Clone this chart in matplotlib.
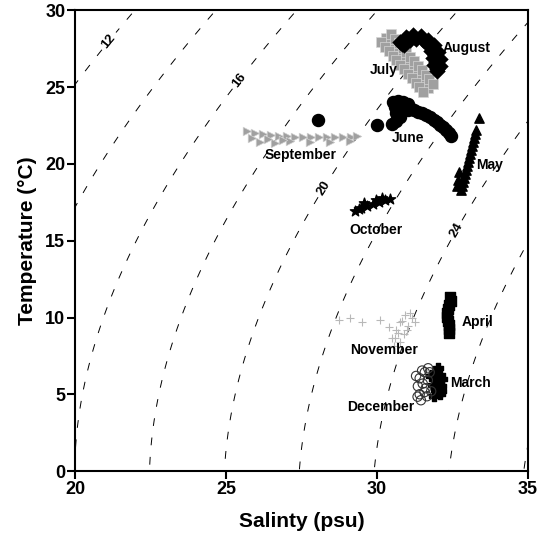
import numpy as np
import matplotlib
matplotlib.use("Agg")
import matplotlib.pyplot as plt

plt.rcParams['font.family'] = ['Liberation Sans', 'DejaVu Sans']

# ---------------- data (Salinity psu, Temperature °C) ----------------
aug_S = [30.76, 30.96, 31.19, 31.46, 31.69, 31.89, 32.02, 32.09, 32.09, 31.99,
         30.89, 31.09, 31.29, 31.52, 31.69, 31.79, 31.85, 31.89,
         30.82, 31.02, 31.24, 31.49, 31.69, 31.84, 31.93, 31.97, 31.99]
aug_T = [27.91, 28.24, 28.37, 28.30, 28.04, 27.72, 27.26, 26.81, 26.35, 26.02,
         27.72, 28.04, 28.11, 28.04, 27.72, 27.33, 26.87, 26.42,
         27.82, 28.14, 28.24, 28.17, 27.88, 27.52, 27.07, 26.61, 26.20]

jul_S = [30.30, 30.43, 30.56, 30.70, 30.79, 30.93, 31.06, 31.19, 31.32, 31.46, 31.56, 31.69,
         30.47, 30.60, 30.73, 30.87, 30.96, 31.10, 31.23, 31.36, 31.49, 31.63, 31.73, 31.86,
         30.13, 30.26, 30.39, 30.53, 30.62, 30.76, 30.89, 31.02, 31.15, 31.29, 31.39, 31.52]
jul_T = [28.17, 27.85, 27.59, 27.26, 27.00, 26.68, 26.42, 26.09, 25.83, 25.50, 25.24, 24.92,
         28.43, 28.11, 27.85, 27.52, 27.26, 26.94, 26.68, 26.35, 26.09, 25.76, 25.50, 25.18,
         27.91, 27.59, 27.33, 27.00, 26.74, 26.42, 26.16, 25.83, 25.57, 25.24, 24.98, 24.66]

jun_S = [28.05, 30.00,
         31.09, 31.23, 31.36, 31.49, 31.62, 31.75, 31.89, 31.99, 32.09, 32.19, 32.28, 32.38, 32.45,
         30.53, 30.70, 30.86, 31.03, 30.60, 30.83, 31.03, 30.63, 30.76, 30.63, 30.50]
jun_T = [22.84, 22.51,
         23.62, 23.49, 23.36, 23.29, 23.16, 23.03, 22.84, 22.71, 22.51, 22.38, 22.19, 21.99, 21.80,
         24.01, 24.08, 24.01, 23.88, 23.68, 23.62, 23.49, 23.29, 23.03, 22.77, 22.58]

may_S = [32.78, 32.81, 32.85, 32.88, 32.91, 32.95, 32.98, 33.01, 33.05, 33.08, 33.11, 33.15, 33.18, 33.21, 33.25, 33.28,
         32.65, 32.68, 32.72, 33.38]
may_T = [18.28, 18.54, 18.80, 19.06, 19.32, 19.58, 19.84, 20.10, 20.36, 20.62, 20.88, 21.15, 21.41, 21.67, 21.93, 22.19,
         18.54, 18.93, 19.45, 22.97]

apr_S = [32.42, 32.45, 32.38, 32.35, 32.32, 32.32, 32.35, 32.38, 32.38, 32.38]
apr_T = [11.32, 11.06, 10.80, 10.54, 10.28, 10.02, 9.76, 9.50, 9.24, 8.98]

mar_S = [32.02, 32.09, 31.99, 32.12, 31.95, 32.09, 31.89, 32.15, 31.92, 32.05, 32.12, 31.85, 31.80]
mar_T = [6.70, 6.25, 5.92, 5.53, 5.27, 5.01, 4.88, 6.00, 6.45, 5.75, 5.20, 5.60, 6.20]

dec_S = [31.59, 31.42, 31.69, 31.36, 31.62, 31.42, 31.66, 31.46, 31.75, 31.30, 31.52, 31.80, 31.50, 31.35, 31.58, 31.70]
dec_T = [6.44, 6.05, 5.92, 5.53, 5.40, 5.01, 4.88, 4.62, 6.44, 6.20, 5.70, 5.20, 6.55, 4.85, 5.15, 6.70]

nov_S = [28.74, 29.11, 29.50, 30.10, 30.93, 31.16, 30.76, 31.03, 30.63, 30.89, 30.50, 30.76, 30.56, 31.26,
         30.40, 31.10, 30.85, 30.70, 31.00, 30.60]
nov_T = [9.82, 9.95, 9.69, 9.82, 10.15, 9.95, 9.69, 9.43, 9.17, 8.91, 8.65, 8.39, 8.13, 9.69,
         9.40, 10.30, 9.80, 9.00, 9.20, 8.70]

oct_S = [29.27, 29.47, 29.67, 29.87, 30.07, 30.26, 30.43, 29.57, 29.97, 29.40, 30.17]
oct_T = [16.92, 17.11, 17.24, 17.37, 17.50, 17.63, 17.70, 17.44, 17.63, 17.05, 17.75]

sep_S = [25.70, 25.96, 26.23, 26.49, 26.75, 27.02, 27.28, 27.55, 27.81, 28.08, 28.34, 28.61, 28.87, 29.14, 29.34,
         26.13, 26.62, 27.12, 27.78, 28.44, 29.11, 25.85, 26.40, 26.90]
sep_T = [22.12, 21.99, 21.93, 21.86, 21.80, 21.80, 21.73, 21.73, 21.73, 21.73, 21.73, 21.73, 21.73, 21.73, 21.80,
         21.41, 21.34, 21.47, 21.41, 21.41, 21.47, 21.70, 21.60, 21.55]

month_labels = ["August", "July", "June", "September", "May", "October", "April", "November", "March", "December"]
label_S = [32.98, 30.23, 31.03, 27.48, 33.74, 29.97, 33.34, 30.23, 33.11, 30.13]
label_T = [27.52, 26.09, 21.67, 20.56, 19.91, 15.68, 9.69, 7.87, 5.73, 4.16]

plain_levels = [14, 18, 22, 26, 28]
labelled_levels = [12, 16, 20, 24]
clabel_pos = [(21.15, 27.95), (25.45, 25.45), (28.2, 18.5), (32.62, 15.68)]

xticks = [20, 25, 30, 35]
yticks = [0, 5, 10, 15, 20, 25, 30]


def sigma_t(S, T):
    rw = (999.842594 + 6.793952e-2 * T - 9.095290e-3 * T**2 + 1.001685e-4 * T**3
          - 1.120083e-6 * T**4 + 6.536332e-9 * T**5)
    rho = (rw + S * (0.824493 - 4.0899e-3 * T + 7.6438e-5 * T**2 - 8.2467e-7 * T**3 + 5.3875e-9 * T**4)
           + S**1.5 * (-5.72466e-3 + 1.0227e-4 * T - 1.6546e-6 * T**2) + 4.8314e-4 * S**2)
    return rho - 1000.0


fig = plt.figure(figsize=(5.48, 5.41), dpi=100)
ax = fig.add_axes([0.137, 0.129, 0.826, 0.852])

Sg, Tg = np.meshgrid(np.linspace(19.5, 35.5, 300), np.linspace(-1, 31, 300))
Sig = sigma_t(Sg, Tg)
dash = (0, (8, 12))
cs1 = ax.contour(Sg, Tg, Sig, levels=plain_levels, colors='black', linewidths=0.7)
cs1.set_linestyle(dash)
cs2 = ax.contour(Sg, Tg, Sig, levels=labelled_levels, colors='black', linewidths=0.7)
cs2.set_linestyle(dash)
lab = ax.clabel(cs2, manual=clabel_pos, inline=True, fmt='%d', fontsize=9.5, inline_spacing=3)
for t in lab:
    t.set_fontweight('bold')

gray = '#a0a0a0'
ax.scatter(sep_S, sep_T, marker='>', s=38, color=gray, edgecolors='#d0d0d0', linewidths=0.5, zorder=3)
ax.scatter(jul_S, jul_T, marker='s', s=50, color=gray, edgecolors='#d5d5d5', linewidths=0.5, zorder=3)
ax.scatter(aug_S, aug_T, marker='D', s=70, color='black', linewidths=0, zorder=4)
ax.scatter(jun_S, jun_T, marker='o', s=75, color='black', zorder=4)
ax.scatter(may_S, may_T, marker='^', s=45, color='black', zorder=4)
ax.scatter(apr_S, apr_T, marker='s', s=60, color='black', zorder=4)
ax.scatter(nov_S, nov_T, marker='+', s=35, color='#b8b8b8', linewidths=0.8, zorder=3)
ax.scatter(oct_S, oct_T, marker='*', s=60, color='black', zorder=4)
ax.scatter(mar_S, mar_T, marker='P', s=50, color='black', zorder=4)
ax.scatter(dec_S, dec_T, marker='o', s=45, facecolors='none', edgecolors='#333333', linewidths=0.8, zorder=5)

for txt, sx, ty in zip(month_labels, label_S, label_T):
    ax.text(sx, ty, txt, ha='center', va='center', fontsize=10, fontweight='bold', zorder=6)

ax.set_xlim(20, 35)
ax.set_ylim(0, 30)
ax.set_xticks(xticks)
ax.set_yticks(yticks)
ax.tick_params(direction='out', length=6, width=1.5, labelsize=13, pad=1)
for lbl in ax.get_xticklabels() + ax.get_yticklabels():
    lbl.set_fontweight('bold')
for sp in ax.spines.values():
    sp.set_linewidth(1.5)
ax.set_xlabel('Salinty (psu)', fontsize=15, fontweight='bold', labelpad=10)
ax.set_ylabel('Temperature (\u00b0C)', fontsize=15, fontweight='bold', labelpad=6)

fig.savefig('out.png', dpi=100)
